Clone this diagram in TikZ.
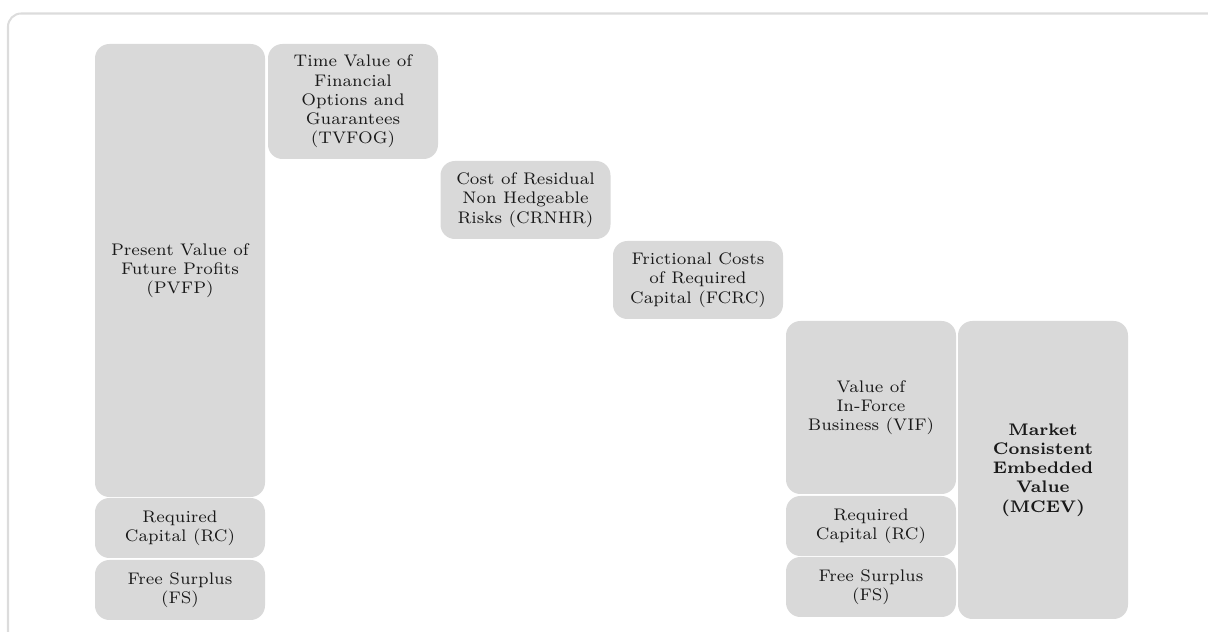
\documentclass[tikz,border=0pt]{standalone}
\usepackage{tikz}
\def\px{0.41667pt}
\tikzset{
  box/.style={fill=boxgray, draw=none, rounded corners=6pt, align=center,
    font=\scriptsize, text=black!90, inner sep=1pt, minimum width=170*\px},
  frame/.style={draw=framegray, line width=0.85pt, rounded corners=5.5pt}
}
\definecolor{boxgray}{HTML}{D9D9D9}
\definecolor{framegray}{HTML}{DCDCDC}
\begin{document}
\begin{tikzpicture}[x=\px, y=-\px]
\useasboundingbox (0,0) rectangle (1208,632);
\draw[frame] (8,13.5) rectangle (1230,660);
\node[box, minimum height=453*\px] (pvfp) at (180,270.5) {Present Value of\\Future Profits\\(PVFP)};
\node[box, minimum height=60*\px] (rc1) at (180,528) {Required\\Capital (RC)};
\node[box, minimum height=60*\px] (fs1) at (180,590) {Free Surplus\\(FS)};
\node[box, minimum height=115*\px] (tvfog) at (353,101.5) {Time Value of\\Financial\\Options and\\Guarantees\\(TVFOG)};
\node[box, minimum height=78*\px] (crnhr) at (525.5,200) {Cost of Residual\\Non Hedgeable\\Risks (CRNHR)};
\node[box, minimum height=78*\px] (fcrc) at (698,280) {Frictional Costs\\of Required\\Capital (FCRC)};
\node[box, minimum height=173*\px] (vif) at (871,407.5) {Value of\\In-Force\\Business (VIF)};
\node[box, minimum height=60*\px] (rc2) at (871,526) {Required\\Capital (RC)};
\node[box, minimum height=60*\px] (fs2) at (871,587) {Free Surplus\\(FS)};
\node[box, minimum height=298*\px, font=\scriptsize\bfseries] (mcev) at (1043,470) {Market\\Consistent\\Embedded\\Value\\(MCEV)};
\end{tikzpicture}
\end{document}
